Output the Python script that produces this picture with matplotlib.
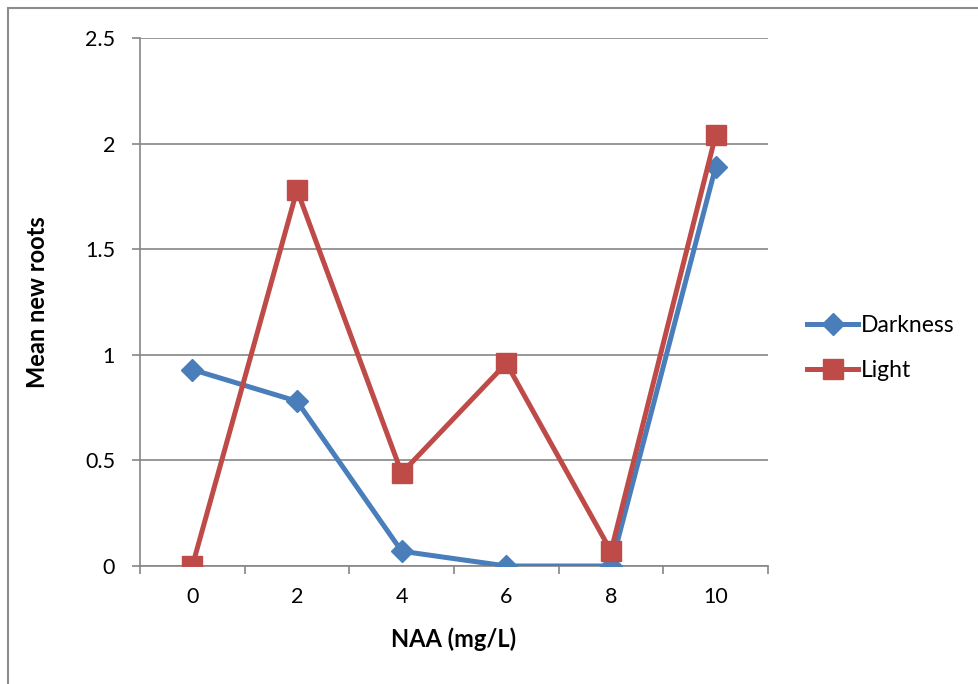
import numpy as np
import matplotlib.pyplot as plt
from matplotlib.patches import Rectangle

plt.rcParams['font.family'] = ['Lato', 'DejaVu Sans']

# 数据
naa = ['0', '2', '4', '6', '8', '10']
darkness = [0.93, 0.78, 0.07, 0.0, 0.0, 1.89]
light = [0.0, 1.78, 0.44, 0.96, 0.07, 2.04]

blue = '#4A7EBB'
red = '#BE4B48'
gray = '#868686'

fig = plt.figure(figsize=(9.79, 6.84), dpi=100)
W, H = 979, 684
ax = fig.add_axes([140 / W, (H - 566) / H, (768 - 140) / W, (566 - 38) / H])

# 外框
fig.patches.append(Rectangle((8 / W, -0.1), 1.2, (H - 8) / H + 0.1,
                             transform=fig.transFigure, fill=False,
                             edgecolor='#8c8c8c', linewidth=1.5))

x = np.arange(len(naa))
ax.plot(x, darkness, color=blue, lw=3.6, marker='D', ms=11,
        mec=blue, mfc=blue, label='Darkness', zorder=3)
ax.plot(x, light, color=red, lw=3.6, marker='s', ms=14,
        mec=red, mfc=red, label='Light', zorder=4)

ax.set_xlim(-0.5, len(naa) - 0.5)
ax.set_ylim(0, 2.5)
ax.set_yticks(np.arange(0, 2.51, 0.5))
ax.set_yticklabels(['0', '0.5', '1', '1.5', '2', '2.5'])
ax.set_xticks(x)
ax.set_xticklabels(naa)
ax.set_xticks(np.arange(-0.5, len(naa), 1), minor=True)

ax.grid(True, axis='y', color=gray, lw=1.2)
ax.set_axisbelow(True)
for s in ['top', 'right']:
    ax.spines[s].set_visible(False)
for s in ['left', 'bottom']:
    ax.spines[s].set_color(gray)
    ax.spines[s].set_linewidth(1.2)

ax.tick_params(axis='x', which='major', length=0, pad=15, labelsize=15.5)
ax.tick_params(axis='x', which='minor', length=6, width=1.2, color=gray)
ax.tick_params(axis='y', length=6, width=1.2, color=gray, pad=12, labelsize=15.5)

ax.set_xlabel('NAA (mg/L)', fontsize=17, fontweight='bold', labelpad=15)
ax.set_ylabel('Mean new roots', fontsize=17, fontweight='bold', labelpad=26)

ax.legend(loc='center left', bbox_to_anchor=(1.03, 0.412), frameon=False,
          fontsize=16.5, handlelength=2.2, handletextpad=0.12, labelspacing=1.05)

fig.savefig('out.png', dpi=100)
